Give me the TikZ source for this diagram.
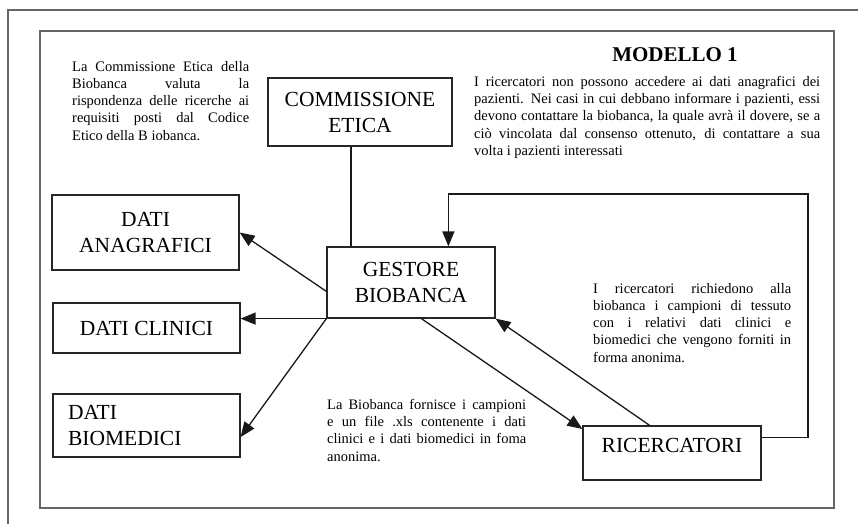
\documentclass[tikz,border=0pt]{standalone}
\usepackage{fontspec}
\setmainfont{Liberation Serif}
\usetikzlibrary{arrows.meta}

\begin{document}
\begin{tikzpicture}[x=1pt,y=-1pt,
  box/.style={draw=black!85,line width=1.2pt,inner sep=0pt,align=center,
    font=\fontsize{21.5}{26}\selectfont},
  note/.style={inner sep=0pt,anchor=north west,align=justify,
    font=\fontsize{14.5}{17.2}\selectfont},
  frame/.style={draw=black!60,line width=1.4pt},
  link/.style={draw=black!90,line width=1.3pt},
  arr/.style={link,-{Triangle[length=15pt,width=12pt]}}]
  \useasboundingbox (0,0) rectangle (858,524);

  % page frames
  \draw[frame] (8,524) -- (8,10) -- (858,10);
  \draw[frame] (40,31) rectangle (834,508);

  % boxes
  \node[box,minimum width=184pt,minimum height=68pt] (comm) at (360,112) {COMMISSIONE\\ETICA};
  \node[box,minimum width=168pt,minimum height=71pt] (gest) at (411,282.5) {GESTORE\\BIOBANCA};
  \node[box,minimum width=187pt,minimum height=75pt] (anag) at (145.5,232.5) {DATI\\ANAGRAFICI};
  \node[box,minimum width=187pt,minimum height=50pt] (clin) at (146.5,328) {DATI CLINICI};
  \node[box,align=left,text width=157pt,inner xsep=15pt,minimum height=63pt] (biom) at (146.5,425.5) {DATI\\BIOMEDICI};
  \node[box,minimum width=178pt,minimum height=54pt,text depth=16pt] (ric) at (672,453) {RICERCATORI};

  % texts
  \node[font=\bfseries\fontsize{21}{25}\selectfont,anchor=base] (title) at (675,62) {MODELLO 1};
  \node[note,text width=177pt] (ncomm) at (72,61)
    {La Commissione Etica della\linebreak Biobanca valuta la\linebreak rispondenza delle ricerche ai\linebreak requisiti posti dal Codice\linebreak Etico della B iobanca.};
  \node[note,text width=346pt] (nanag) at (474,76)
    {I ricercatori non possono accedere ai dati anagrafici dei\linebreak pazienti. Nei casi in cui debbano informare i pazienti, essi\linebreak devono contattare la biobanca, la quale avrà il dovere, se a\linebreak ciò vincolata dal consenso ottenuto, di contattare a sua\linebreak volta i pazienti interessati};
  \node[note,text width=198pt] (nric) at (593,283)
    {I ricercatori richiedono alla\linebreak biobanca i campioni di tessuto\linebreak con i relativi dati clinici e\linebreak biomedici che vengono forniti in\linebreak forma anonima.};
  \node[note,text width=199pt] (nbio) at (327,399)
    {La Biobanca fornisce i campioni\linebreak e un file .xls contenente i dati\linebreak clinici e i dati biomedici in foma\linebreak anonima.};

  % connectors
  \coordinate (loop) at (808,194);
  \draw[link] (gest.149) -- (gest.149 |- comm.south);
  \draw[arr] (gest.186) -- (anag.east);
  \draw[arr] (gest.south west) -- (gest.south west -| clin.east);
  \draw[arr] (gest.south west) -- (biom.353);
  \draw[arr] (gest.286) -- (ric.165);
  \draw[arr] (ric.129) -- (gest.south east);
  \draw[arr] (ric.10) -| (loop) -| (gest.44);
\end{tikzpicture}
\end{document}
